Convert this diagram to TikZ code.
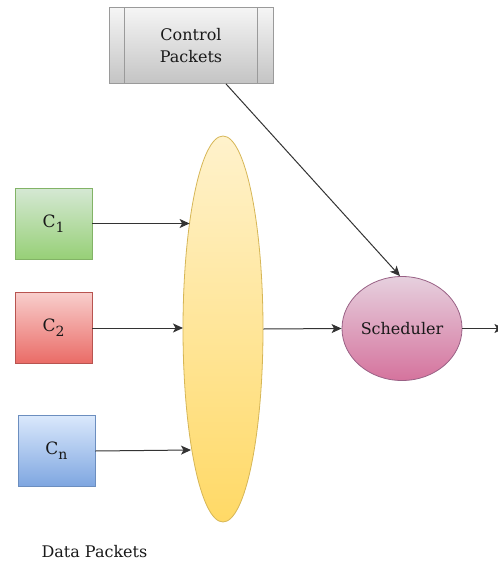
\documentclass[tikz,border=0pt]{standalone}
\usepackage{fontspec}
\setmainfont{DejaVu Serif}
\usetikzlibrary{shapes.geometric,arrows.meta}

\definecolor{linecol}{HTML}{333333}
\definecolor{gtop}{HTML}{D5E8D4}\definecolor{gbot}{HTML}{97D077}\definecolor{gline}{HTML}{82B366}
\definecolor{rtop}{HTML}{F8CECC}\definecolor{rbot}{HTML}{EA6B66}\definecolor{rline}{HTML}{B85450}
\definecolor{btop}{HTML}{DAE8FC}\definecolor{bbot}{HTML}{7EA6E0}\definecolor{bline}{HTML}{6C8EBF}
\definecolor{ytop}{HTML}{FFF2CC}\definecolor{ybot}{HTML}{FFD966}\definecolor{yline}{HTML}{D6B656}
\definecolor{ptop}{HTML}{E6D0DE}\definecolor{pbot}{HTML}{D5739D}\definecolor{pline}{HTML}{996185}
\definecolor{stop}{HTML}{F5F5F5}\definecolor{sbot}{HTML}{C4C4C4}\definecolor{sline}{HTML}{9A9A9A}

% class label with a low, nearly full-size index
\newcommand{\classlabel}[1]{C\raisebox{-5pt}{\fontsize{14}{14}\selectfont #1}}

\tikzset{
  flow/.style={draw=linecol, line width=1pt, -{Stealth[length=10pt,width=9pt,inset=2.5pt]}},
  source/.style={rectangle, minimum width=77pt, minimum height=71pt, line width=0.8pt,
                 font=\fontsize{17}{20}\selectfont, text=black!90},
  green src/.style={source, draw=gline, top color=gtop, bottom color=gbot},
  red src/.style={source, draw=rline, top color=rtop, bottom color=rbot},
  blue src/.style={source, draw=bline, top color=btop, bottom color=bbot},
  label text/.style={font=\fontsize{16}{22}\selectfont, text=black!90},
}

\begin{document}
\begin{tikzpicture}[x=1pt, y=-1pt]
  \useasboundingbox (0,0) rectangle (498,563);

  % control packets (predefined-process box)
  \node[rectangle, minimum width=164pt, minimum height=76pt, draw=sline, line width=0.8pt,
        top color=stop, bottom color=sbot, align=center, label text]
        (ctrl) at (191,45.5) {Control\\Packets};
  \draw[sline, line width=1.6pt] ([xshift=16pt]ctrl.north west) -- ([xshift=16pt]ctrl.south west);
  \draw[sline, line width=1.6pt] ([xshift=-16pt]ctrl.north east) -- ([xshift=-16pt]ctrl.south east);

  % traffic classes
  \node[green src] (c1) at (53.5,223.5) {\classlabel{1}};
  \node[red src]   (c2) at (53.5,328) {\classlabel{2}};
  \node[blue src]  (cn) at (56.5,451) {\classlabel{n}};

  % aggregation pool
  \node[ellipse, minimum width=80pt, minimum height=386pt, draw=yline, line width=0.8pt,
        top color=ytop, bottom color=ybot, inner sep=0pt] (pool) at (223,329) {};

  % scheduler
  \node[ellipse, minimum width=120pt, minimum height=104pt, draw=pline, line width=0.8pt,
        top color=ptop, bottom color=pbot, label text, inner sep=0pt] (sched) at (402,328.5) {Scheduler};

  % entry points on the pool border
  \path (pool.center) ++(-33.4,-105.5) coordinate (in1);
  \path (pool.center) ++(-40,-1) coordinate (in2);
  \path (pool.center) ++(-32,121) coordinate (inn);

  \draw[flow] (c1.east) -- (in1);
  \draw[flow] (c2.east) -- (in2);
  \draw[flow] (cn.east) -- (inn);
  \draw[flow] (pool.east) -- (sched.west);
  \draw[flow] ([xshift=35pt]ctrl.south) -- ([xshift=-2pt]sched.north);
  \draw[flow] (sched.east) -- ++(42,0);

  \node[label text, anchor=west] (data) at (38,552) {Data Packets};
\end{tikzpicture}
\end{document}
